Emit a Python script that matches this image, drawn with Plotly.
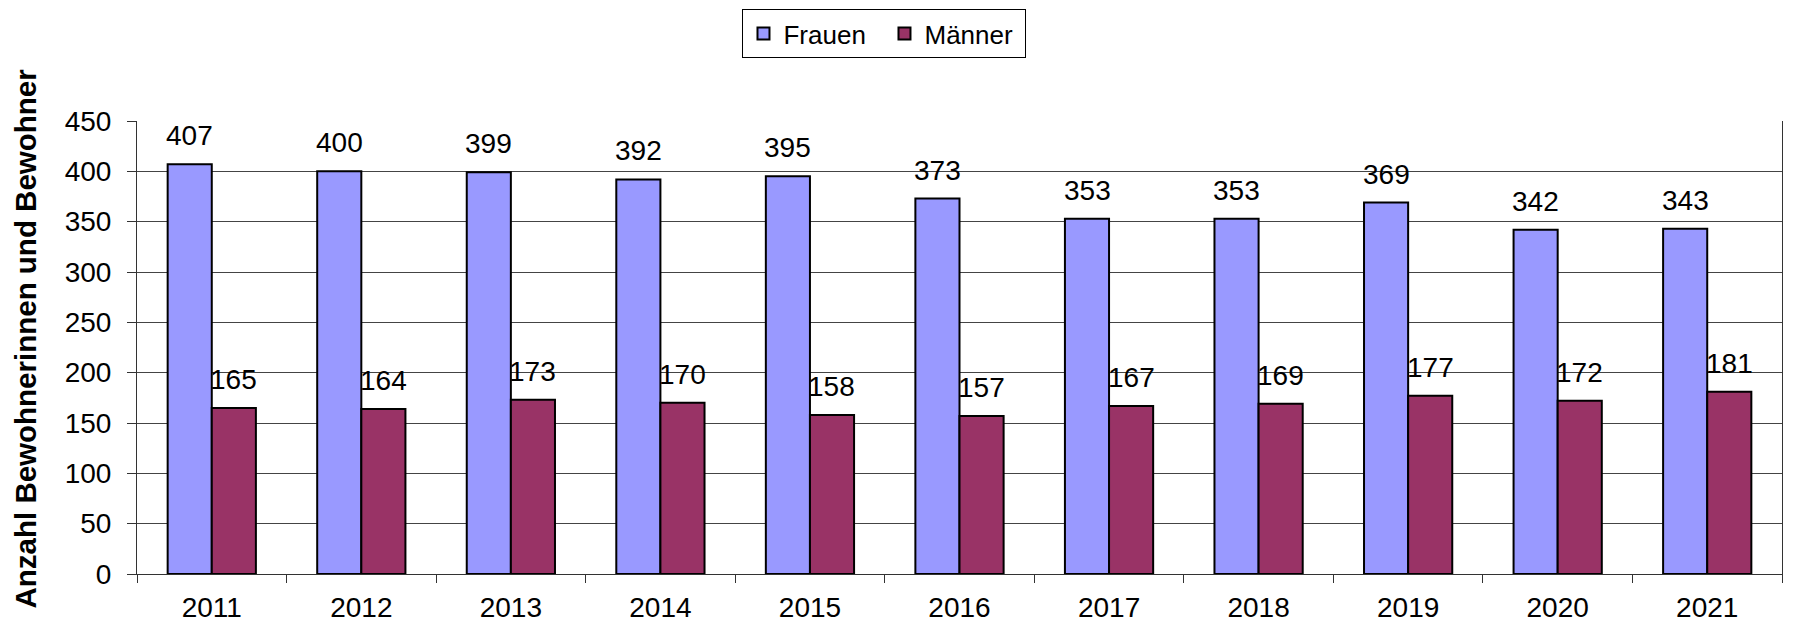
import plotly.graph_objects as go

years = ["2011", "2012", "2013", "2014", "2015", "2016", "2017", "2018", "2019", "2020", "2021"]
frauen = [407, 400, 399, 392, 395, 373, 353, 353, 369, 342, 343]
maenner = [165, 164, 173, 170, 158, 157, 167, 169, 177, 172, 181]

FONT = "Arial, Liberation Sans, sans-serif"
FS = 28

fig = go.Figure()
fig.add_trace(go.Bar(
    name="Frauen", x=years, y=frauen,
    marker=dict(color="#9999FF", line=dict(color="black", width=2)),
))
fig.add_trace(go.Bar(
    name="Männer", x=years, y=maenner,
    marker=dict(color="#993366", line=dict(color="black", width=2)),
))

# value labels above bars (x as category index)
annotations = []
for i, (f, m) in enumerate(zip(frauen, maenner)):
    annotations.append(dict(x=i, y=f, text=str(f), xshift=-22, yshift=11,
                            showarrow=False, yanchor="bottom",
                            font=dict(size=FS, color="black", family=FONT)))
    annotations.append(dict(x=i, y=m, text=str(m), xshift=22, yshift=11,
                            showarrow=False, yanchor="bottom",
                            font=dict(size=FS, color="black", family=FONT)))

# y axis title, placed as a rotated annotation
annotations.append(dict(
    text="<b>Anzahl Bewohnerinnen und Bewohner</b>", textangle=-90,
    xref="paper", yref="paper", x=0, y=0.5, xanchor="center", yanchor="middle",
    xshift=-112, yshift=9, showarrow=False,
    font=dict(size=29.5, color="black", family=FONT),
))

# the page body adds an 8px offset, so margins are shifted by that amount
fig.update_layout(
    width=1793, height=625,
    margin=dict(l=129, r=19, t=113, b=59, autoexpand=False),
    paper_bgcolor="white", plot_bgcolor="white",
    font=dict(family=FONT, size=FS, color="black"),
    barmode="group", bargap=0.41, bargroupgap=0,
    legend=dict(
        orientation="h", x=0.4544, y=1.247, xanchor="center", yanchor="top",
        bordercolor="black", borderwidth=1, font=dict(size=26),
        itemwidth=30, traceorder="normal", entrywidth=96,
    ),
    annotations=annotations,
    showlegend=True,
)
fig.update_xaxes(
    type="category", range=[-0.5, len(years) - 0.5],
    showline=True, linecolor="#333333", linewidth=1,
    ticks="outside", tickson="boundaries", ticklen=8, tickcolor="#333333",
    showgrid=False, tickfont=dict(size=FS), tickangle=0,
    ticklabelstandoff=8,
)
fig.update_yaxes(
    range=[0, 450], dtick=50,
    showline=True, linecolor="#333333", linewidth=1, mirror=True,
    ticks="outside", ticklen=9, tickcolor="#333333",
    showgrid=True, gridcolor="#444444", gridwidth=1,
    tickfont=dict(size=FS), ticklabelstandoff=10,
)

fig.write_html("out.html")
